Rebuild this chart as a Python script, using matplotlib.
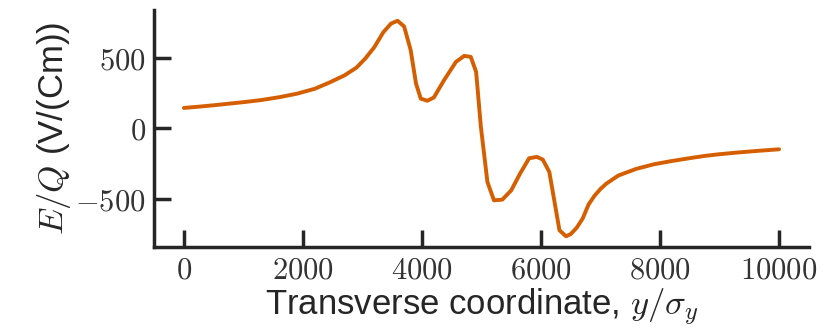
import matplotlib
matplotlib.use("Agg")
import matplotlib.pyplot as plt
from matplotlib.ticker import FuncFormatter

# transverse field profile
y_pos = [0, 250, 500, 750, 1000, 1300, 1600, 1900, 2200, 2450, 2700, 2900,
         3050, 3200, 3350, 3480, 3590, 3700, 3810, 3900, 3980, 4090, 4200,
         4370, 4570, 4710, 4820, 4910, 4990, 5100, 5210, 5350, 5500, 5650,
         5800, 5930, 6030, 6140, 6310, 6420, 6500, 6600, 6700, 6800, 6900,
         7000, 7100, 7300, 7600, 7900, 8200, 8500, 8750, 9000, 9300, 9650,
         10000]
e_field = [144, 153, 163, 174, 185, 200, 220, 245, 280, 325, 375, 430,
           495, 575, 680, 742, 762, 722, 555, 317, 210, 195, 218,
           340, 470, 513, 506, 400, 10, -381, -511, -506, -440, -320,
           -213, -203, -222, -310, -723, -766, -750, -705, -640, -540, -478,
           -430, -392, -335, -288, -255, -232, -212, -196, -184, -172, -160,
           -149]

plt.rcParams['mathtext.fontset'] = 'cm'
plt.rcParams['font.family'] = ['Liberation Sans', 'DejaVu Sans']

fig = plt.figure(figsize=(8.33, 3.33), dpi=100)
ax = fig.add_axes([0.185, 0.258, 0.786, 0.712])

ax.plot(y_pos, e_field, color='#d55e00', lw=2.8, solid_capstyle='round')

ax.set_xticks([0, 2000, 4000, 6000, 8000, 10000])
ax.set_yticks([-500, 0, 500])
math_fmt = FuncFormatter(lambda v, p: r'$%d$' % v)
ax.xaxis.set_major_formatter(math_fmt)
ax.yaxis.set_major_formatter(math_fmt)

for side in ['top', 'right']:
    ax.spines[side].set_visible(False)
for side in ['left', 'bottom']:
    ax.spines[side].set_linewidth(2.5)
    ax.spines[side].set_color('#262626')
ax.tick_params(direction='in', length=12, width=2.5, color='#262626',
               labelsize=22, labelcolor='#333333', pad=6)

ax.set_xlabel(r'Transverse coordinate, $y/\sigma_y$', fontsize=25,
              color='#262626', labelpad=1)
ax.set_ylabel(r'$E/Q$ (V/(Cm))', fontsize=25, color='#262626', labelpad=2)

fig.savefig('out.png', dpi=100)
